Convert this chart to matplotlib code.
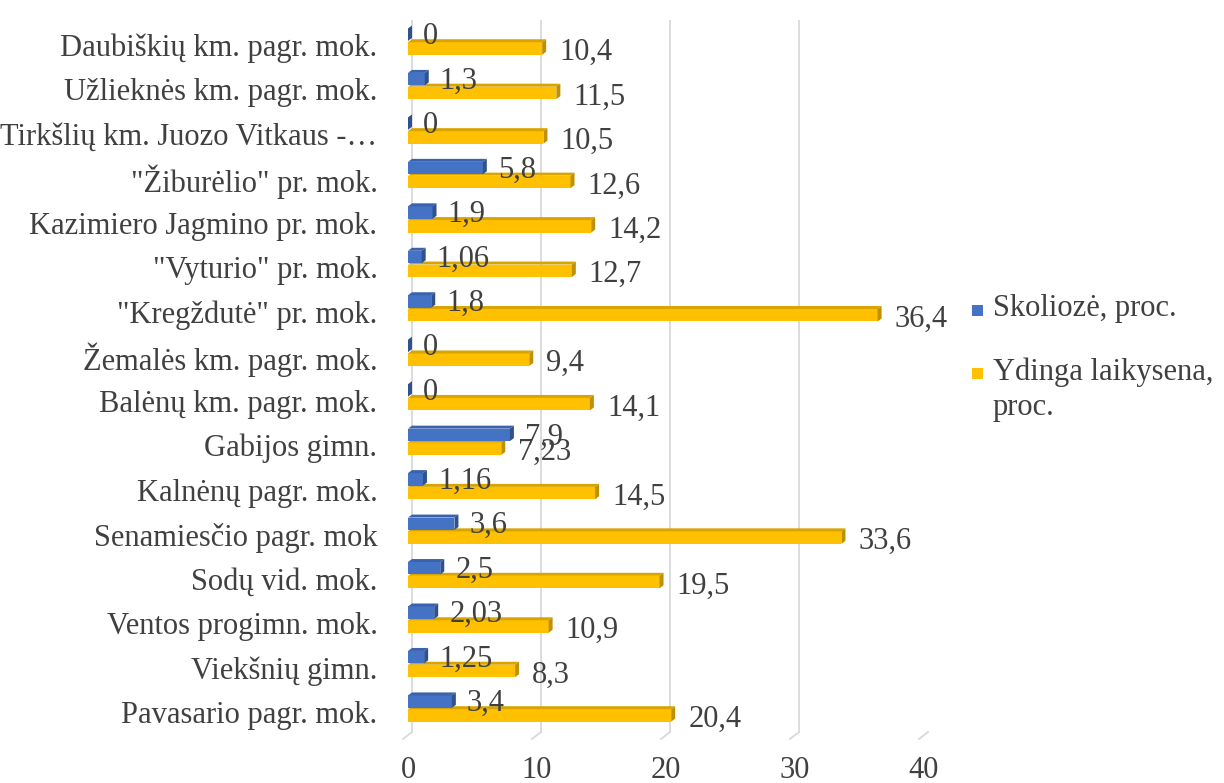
import matplotlib.pyplot as plt
from matplotlib.patches import Polygon, Rectangle
import numpy as np

plt.rcParams['font.family'] = ['Liberation Serif', 'DejaVu Serif']

schools = [
    'Daubiškių km. pagr. mok.',
    'Užlieknės km. pagr. mok.',
    'Tirkšlių km. Juozo Vitkaus -…',
    '"Žiburėlio" pr. mok.',
    'Kazimiero Jagmino pr. mok.',
    '"Vyturio" pr. mok.',
    '"Kregždutė" pr. mok.',
    'Žemalės km. pagr. mok.',
    'Balėnų km. pagr. mok.',
    'Gabijos gimn.',
    'Kalnėnų pagr. mok.',
    'Senamiesčio pagr. mok',
    'Sodų vid. mok.',
    'Ventos progimn. mok.',
    'Viekšnių gimn.',
    'Pavasario pagr. mok.',
]
skolioze = [0, 1.3, 0, 5.8, 1.9, 1.06, 1.8, 0, 0, 7.9, 1.16, 3.6, 2.5, 2.03, 1.25, 3.4]
ydinga = [10.4, 11.5, 10.5, 12.6, 14.2, 12.7, 36.4, 9.4, 14.1, 7.23, 14.5, 33.6, 19.5, 10.9, 8.3, 20.4]
series_names = ['Skoliozė, proc.', 'Ydinga laikysena,\nproc.']
xticks = [0, 10, 20, 30, 40]

TXT = '#404040'
BLUE = ('#4472C4', '#3A63AE', '#2F528F')
GOLD = ('#FFC000', '#D9A400', '#BF9000')
FS = 22

W, H = 1224, 783
fig = plt.figure(figsize=(W/100, H/100), dpi=100)
ax_l, ax_r, ax_t, ax_b = 408, 924, 20, 735
ax = fig.add_axes([ax_l/W, 1-ax_b/H, (ax_r-ax_l)/W, (ax_b-ax_t)/H])
ylo, yhi = -0.56, 15.52
ax.set_xlim(0, 40)
ax.set_ylim(yhi, ylo)
# data units per pixel
xs = 40/(ax_r-ax_l)
ys = (yhi-ylo)/(ax_b-ax_t)
dx, dy = 4*xs, 3*ys

def bar3d(y, v, h, cols):
    front, top, side = cols
    y0, y1 = y-h/2, y+h/2
    ax.add_patch(Rectangle((0, y0), v, h, facecolor=front, edgecolor='none', zorder=3))
    ax.add_patch(Polygon([(0, y0), (v, y0), (v+dx, y0-dy), (dx, y0-dy)],
                         closed=True, facecolor=top, edgecolor='none', zorder=3))
    ax.add_patch(Polygon([(v, y0), (v, y1), (v+dx, y1-dy), (v+dx, y0-dy)],
                         closed=True, facecolor=side, edgecolor='none', zorder=3))

def fmt(v):
    return f'{v:g}'.replace('.', ',')

pos = np.arange(len(schools))
bh = 0.28
for p, s, yv in zip(pos, skolioze, ydinga):
    yb, yy = p-0.23, p+0.08
    bar3d(yy, yv, bh, GOLD)
    bar3d(yb, s, bh, BLUE)
    ax.annotate(fmt(s), (s+dx, yb), xytext=(11, -2), textcoords='offset pixels',
                ha='left', va='center', fontsize=FS, color=TXT, zorder=5)
    ax.annotate(fmt(yv), (yv+dx, yy), xytext=(13, -4), textcoords='offset pixels',
                ha='left', va='center', fontsize=FS, color=TXT, zorder=5)

# gridlines with small floor ticks
for t in xticks:
    ax.plot([t+dx, t+dx], [ylo, yhi-dy], color='#D9D9D9', lw=1.3, zorder=1)
    ax.plot([t+dx, t-5*xs], [yhi-dy, yhi+4*ys], color='#D9D9D9', lw=1.3, zorder=1, clip_on=False)

ax.set_yticks(pos)
ax.set_yticklabels(schools)
ax.set_xticks(xticks)
ax.tick_params(axis='y', length=0, pad=22, labelsize=FS, labelcolor=TXT)
ax.tick_params(axis='x', length=0, pad=15, labelsize=FS, labelcolor=TXT)
for sp in ax.spines.values():
    sp.set_visible(False)

# legend
for (cy, col, name) in [(310, BLUE[0], series_names[0]), (373, GOLD[0], series_names[1])]:
    fig.patches.append(Rectangle((972/W, 1-(cy+6)/H), 11/W, 11/H, transform=fig.transFigure,
                                 facecolor=col, edgecolor='none'))
    fig.text(993/W, 1-(cy-16)/H, name, ha='left', va='top', fontsize=FS, color=TXT,
             linespacing=1.3)

fig.savefig('out.png', dpi=100, facecolor='white')
